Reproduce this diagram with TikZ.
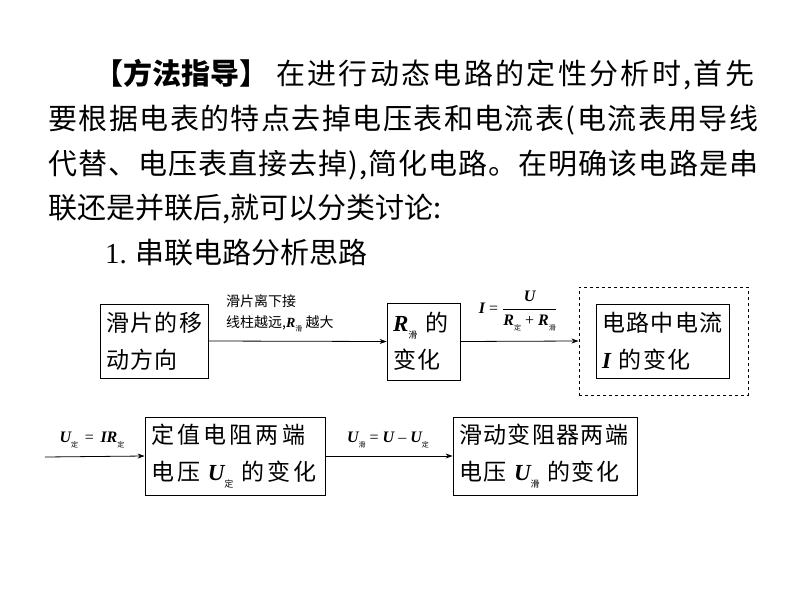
\documentclass[tikz,border=0pt]{standalone}
\usepackage{fontspec}
\usepackage{amsmath}
\setmainfont{Liberation Serif}
\newfontfamily\lat{Liberation Serif}
\newfontfamily\cjk{Noto Sans CJK SC}
\newfontfamily\cjkbox[LetterSpace=6]{Noto Sans CJK SC}
\newfontfamily\cjkwide[LetterSpace=14]{Noto Sans CJK SC}
\usetikzlibrary{arrows.meta}
\newcommand\cjsub[1]{\raisebox{-0.3em}{\fontsize{7}{7}\selectfont\cjk #1}}
\newcommand\bsub[1]{\raisebox{-0.3em}{\fontsize{9}{9}\selectfont\cjk #1}}
\newcommand\var[1]{{\lat\bfseries\itshape #1}}
\begin{document}
\begin{tikzpicture}[x=1pt,y=-1pt,
  para/.style={anchor=west,inner sep=0pt,font=\cjk\fontsize{29}{29}\selectfont},
  box/.style={draw,line width=0.8pt,inner xsep=6pt,inner ysep=0pt,align=left,
    font=\cjkbox\fontsize{23}{37}\selectfont},
  lab/.style={inner sep=0pt,font=\fontsize{16}{16}\selectfont},
  arr/.style={draw,line width=0.8pt,-{Stealth[length=7pt,width=5pt]}}]
\useasboundingbox (0,0) rectangle (794,596);
\fill[white] (0,0) rectangle (794,596);
% paragraph
\node[para] (l1) at (94,75) {{\bfseries 【方法指导】}\hspace{8pt}{\addfontfeature{LetterSpace=8}在进行动态电路的定性分析时,首先}};
\node[para] (l2) at (48,120) {\addfontfeature{LetterSpace=5}要根据电表的特点去掉电压表和电流表(电流表用导线};
\node[para] (l3) at (48,165) {\addfontfeature{LetterSpace=3.6}代替、电压表直接去掉),简化电路。在明确该电路是串};
\node[para] (l4) at (48,209) {联还是并联后,就可以分类讨论:};
\node[para] (l5) at (105,253) {{\lat 1.} 串联电路分析思路};
% row 1
\node[box,minimum width=108pt,minimum height=74pt,text width=96pt] (A) at (154,341)
  {滑片的移\\动方向};
\node[box,minimum width=73pt,minimum height=77pt,text width=61pt] (B) at (423.5,341.5)
  {\var{R}\bsub{滑} 的\\变化};
\node[draw,dashed,line width=1pt,minimum width=169pt,minimum height=108pt] (D0) at (663.5,341) {};
\node[box,minimum width=133pt,minimum height=74pt,text width=121pt] (C) at (662.5,341)
  {电路中电流\\\var{I} 的变化};
\draw[arr] (A.east) -- (B.west);
\node[lab,anchor=south west,align=left,font=\cjk\fontsize{14}{21}\selectfont] (la) at (226,332)
  {滑片离下接\\线柱越远,\var{R}\cjsub{滑} 越大};
\draw[arr] (B.east) -- (D0.west);
\node[lab] (lb) at (518,311)
  {\var{I} = $\dfrac{\text{\var{U}}}{\text{\var{R}\cjsub{定} + \var{R}\cjsub{滑}}}$};
% row 2
\coordinate (S) at (45,457);
\node[box,font=\cjkwide\fontsize{23}{37}\selectfont,minimum width=180pt,minimum height=78pt,text width=168pt] (E) at (235,456)
  {定值电阻两端\\电压 \var{U}\bsub{定} 的变化};
\node[box,minimum width=184pt,minimum height=78pt,text width=172pt] (F) at (545,456)
  {滑动变阻器两端\\电压 \var{U}\bsub{滑} 的变化};
\draw[arr] (S) -- (E.west);
\node[lab] (lc) at (92,440) {\var{U}\cjsub{定} \,=\, \var{IR}\cjsub{定}};
\draw[arr] (E.east) -- (F.west);
\node[lab] (ld) at (388,440) {\var{U}\cjsub{滑} = \var{U} -- \var{U}\cjsub{定}};
\end{tikzpicture}
\end{document}
